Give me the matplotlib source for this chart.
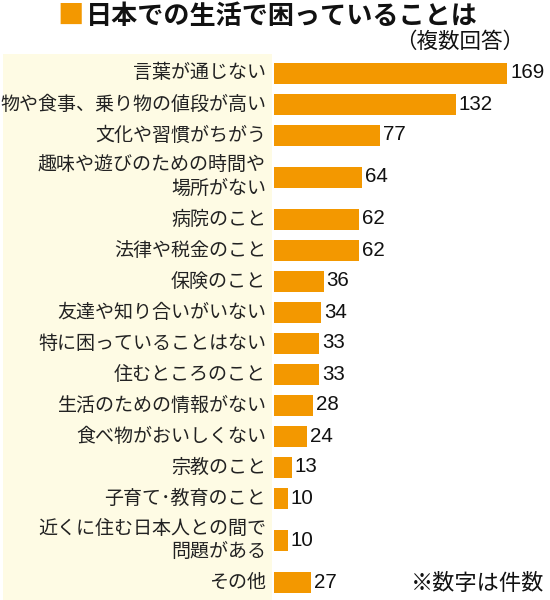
import matplotlib
matplotlib.use("Agg")
import matplotlib.pyplot as plt
from matplotlib import font_manager
from matplotlib.patches import Rectangle

categories = [
    "言葉が通じない",
    "物や食事、乗り物の値段が高い",
    "文化や習慣がちがう",
    "趣味や遊びのための時間や\n場所がない",
    "病院のこと",
    "法律や税金のこと",
    "保険のこと",
    "友達や知り合いがいない",
    "特に困っていることはない",
    "住むところのこと",
    "生活のための情報がない",
    "食べ物がおいしくない",
    "宗教のこと",
    "子育て･教育のこと",
    "近くに住む日本人との間で\n問題がある",
    "その他",
]
values = [169, 132, 77, 64, 62, 62, 36, 34, 33, 33, 28, 24, 13, 10, 10, 27]
title = "日本での生活で困っていることは"
subtitle = "（複数回答）"
note = "※数字は件数"

BAR = "#F39800"
PANEL = "#FEFBE4"
JP = ["Noto Sans CJK JP", "DejaVu Sans"]
names = {f.name for f in font_manager.fontManager.ttflist}
NUM = "Liberation Sans Narrow" if "Liberation Sans Narrow" in names else "Liberation Sans"
NUMSIZE = 16.5 if NUM == "Liberation Sans Narrow" else 14.8

W, H = 550, 600
fig = plt.figure(figsize=(W / 100, H / 100), dpi=100)
fig.patch.set_facecolor("white")

# row heights in pixels: single line rows 31 px, extra line +22 px
heights = [31 + 22 * c.count("\n") for c in categories]
total = sum(heights)
centers = []
acc = 0
for h in heights:
    centers.append(acc + h / 2)
    acc += h

top_px, bottom_px = 57.5, 57.5 + total
left_px = 274
scale = (507 - 274) / 169.0  # px per unit
ax = fig.add_axes([left_px / W, 1 - bottom_px / H, 1 - left_px / W, total / H])
ax.set_xlim(0, (W - left_px) / scale)
ax.set_ylim(total, 0)
ax.axis("off")
ax.set_zorder(2)

# label panel
fig.patches.append(Rectangle((3 / W, 0), (272 - 3) / W, 1 - 54 / H,
                             transform=fig.transFigure, facecolor=PANEL,
                             edgecolor="none", zorder=-5))

ax.barh(centers, values, height=21, color=BAR, edgecolor="none")
for c, v, y in zip(categories, values, centers):
    ax.annotate(str(v), (v, y), xytext=(3, 0), textcoords="offset pixels",
                ha="left", va="center", fontsize=NUMSIZE, family=NUM, color="#111111")
    ax.annotate(c, (0, y), xytext=(-8, 0), textcoords="offset pixels",
                ha="right", va="center", fontsize=13.7, family=JP,
                color="#222222", linespacing=1.12, annotation_clip=False)

fig.text(57 / W, 1 - 16 / H, "■", color=BAR, fontsize=19, family=JP,
         ha="left", va="center", fontweight="bold")
fig.text(86 / W, 1 - 16 / H, title, color="#111111", fontsize=18.8, family=JP,
         ha="left", va="center", fontweight="bold")
fig.text(524 / W, 1 - 42 / H, subtitle, color="#111111", fontsize=15.5, family=JP,
         ha="right", va="center")
fig.text(544 / W, 1 - 583 / H, note, color="#111111", fontsize=16, family=JP,
         ha="right", va="center")

fig.savefig("out.png", dpi=100)
